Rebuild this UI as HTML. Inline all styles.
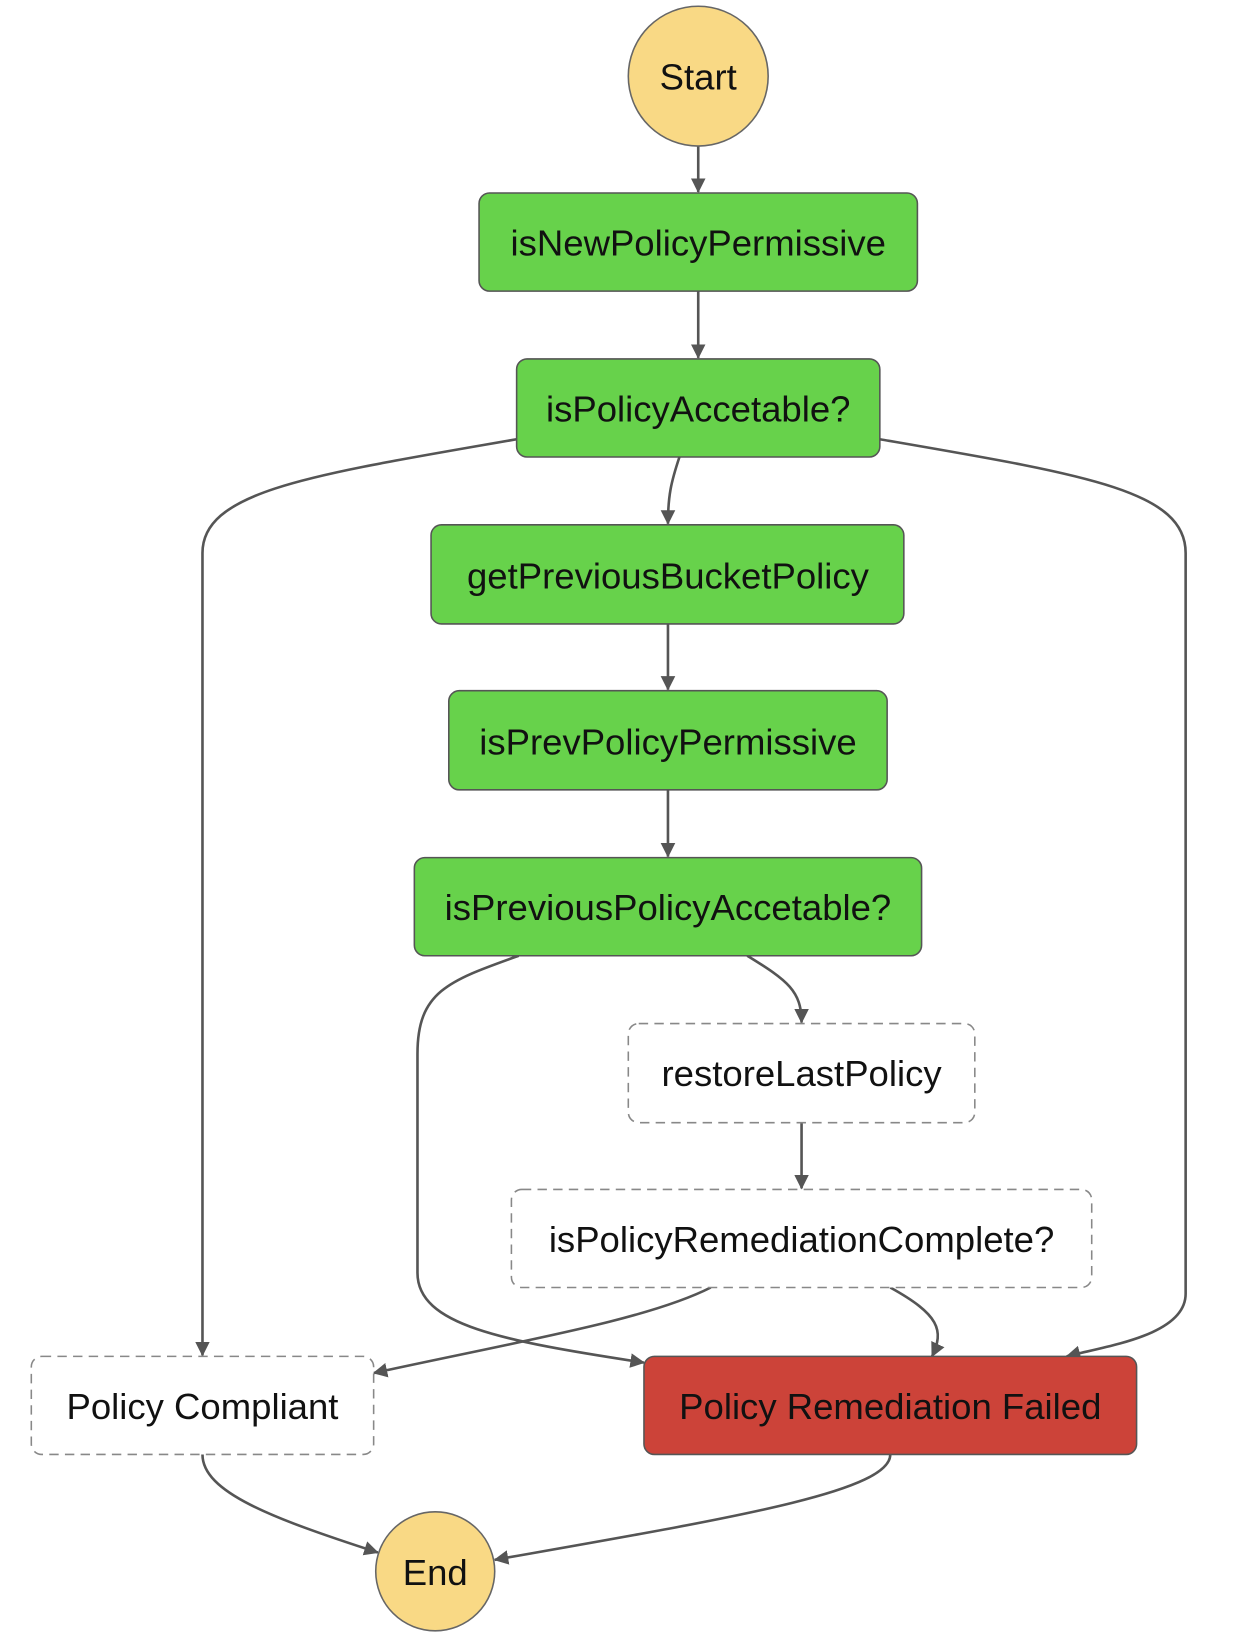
<!DOCTYPE html>
<html><head><meta charset="utf-8"><style>
html,body{margin:0;padding:0;background:#fff;}
svg{display:block;}
text{font-family:"Liberation Sans",sans-serif;font-size:35px;fill:#111;text-anchor:middle;dominant-baseline:central;}
</style></head><body>
<svg width="1242" height="1636" viewBox="0 0 1190 1568" preserveAspectRatio="none" xmlns="http://www.w3.org/2000/svg">
<defs>
<marker id="a" viewBox="0 0 14 14" refX="13" refY="7" markerWidth="14" markerHeight="14" orient="auto" markerUnits="userSpaceOnUse">
<path d="M0,0 L14,7 L0,14 z" fill="#555"/>
</marker>
</defs>
<g fill="none" stroke="#555" stroke-width="2.5" marker-end="url(#a)">
<path d="M669,140 L669,184"/>
<path d="M669,279 L669,343"/>
<path d="M651,438 C643,462 640,475 640,502"/>
<path d="M495,421 C300,455 194,470 194,530 L194,1299"/>
<path d="M843,421 C1040,455 1136,470 1136,530 L1136,1240 C1136,1280 1060,1290 1022,1300"/>
<path d="M640,598 L640,661"/>
<path d="M640,757 L640,821"/>
<path d="M716,916 C755,940 768,950 768,980"/>
<path d="M497,916 C430,940 400,950 400,1010 L400,1220 C400,1270 480,1285 617,1306"/>
<path d="M768,1076 L768,1139"/>
<path d="M681,1234 C620,1265 500,1285 358,1316"/>
<path d="M853,1234 C900,1260 905,1275 893,1300"/>
<path d="M194,1394 C194,1430 260,1455 362,1488"/>
<path d="M853,1394 C853,1430 700,1455 474,1495"/>
</g>
<circle cx="669" cy="73" r="67" fill="#f9d985" stroke="#666" stroke-width="1.5"/>
<text x="669" y="74">Start</text>
<g stroke="#555" stroke-width="1.5">
<rect x="459" y="185" width="420" height="94" rx="10" fill="#67d24b"/>
<rect x="495" y="344" width="348" height="94" rx="10" fill="#67d24b"/>
<rect x="413" y="503" width="453" height="95" rx="10" fill="#67d24b"/>
<rect x="430" y="662" width="420" height="95" rx="10" fill="#67d24b"/>
<rect x="397" y="822" width="486" height="94" rx="10" fill="#67d24b"/>
<rect x="602" y="981" width="332" height="95" rx="10" fill="#fff" stroke="#888" stroke-dasharray="9,6"/>
<rect x="490" y="1140" width="556" height="94" rx="10" fill="#fff" stroke="#888" stroke-dasharray="9,6"/>
<rect x="30" y="1300" width="328" height="94" rx="10" fill="#fff" stroke="#888" stroke-dasharray="9,6"/>
<rect x="617" y="1300" width="472" height="94" rx="10" fill="#cc4339"/>
</g>
<text x="669" y="233">isNewPolicyPermissive</text>
<text x="669" y="392">isPolicyAccetable?</text>
<text x="640" y="552">getPreviousBucketPolicy</text>
<text x="640" y="711">isPrevPolicyPermissive</text>
<text x="640" y="870">isPreviousPolicyAccetable?</text>
<text x="768" y="1029">restoreLastPolicy</text>
<text x="768" y="1188">isPolicyRemediationComplete?</text>
<text x="194" y="1348">Policy Compliant</text>
<text x="853" y="1348">Policy Remediation Failed</text>
<circle cx="417" cy="1506" r="57" fill="#f9d985" stroke="#666" stroke-width="1.5"/>
<text x="417" y="1507">End</text>
</svg>
</body></html>
